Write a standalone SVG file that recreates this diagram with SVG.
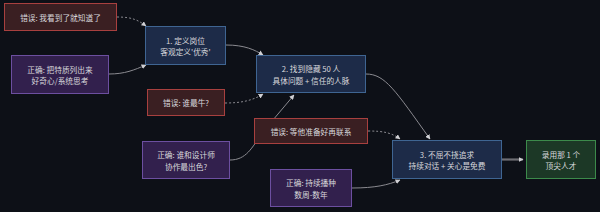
<svg xmlns="http://www.w3.org/2000/svg" width="600" height="212" viewBox="0 0 600 212">
<style>
text{font-family:"Noto Sans CJK SC","Liberation Sans",sans-serif;font-size:7.7px;fill:#d8d8dc;text-anchor:middle;dominant-baseline:central}
.step rect{fill:#1d2b48;stroke:#3f6592;stroke-width:1}
.err rect{fill:#3a1f22;stroke:#a8403f;stroke-width:1}
.ok rect{fill:#32204d;stroke:#6c4fa0;stroke-width:1}
.fin rect{fill:#1c3826;stroke:#3c8a4b;stroke-width:1}
.c path{fill:none;stroke:#8a8a90;stroke-width:1}
.c .d{stroke-dasharray:2 2}
.c .t{stroke-width:2.2;stroke:#6e6e74}
</style>
<defs>
<marker id="a" viewBox="0 0 10 10" refX="9" refY="5" markerWidth="5" markerHeight="5" orient="auto" markerUnits="userSpaceOnUse">
<path d="M0,0L10,5L0,10z" fill="#d0d0d4"/>
</marker>
</defs>
<rect width="600" height="212" fill="#0d1017"/>
<g id="connectors" class="c">
<path class="d" d="M117,17 C132,17 138,20 146,26" marker-end="url(#a)"/>
<path d="M109,74 C125,74 134,70 146,65" marker-end="url(#a)"/>
<path d="M226,45 C245,45 255,50 263,55" marker-end="url(#a)"/>
<path class="d" d="M225,103 C240,103 252,101 263,94" marker-end="url(#a)"/>
<path d="M230,160 C246,160 252,148 262,133 L294,95" marker-end="url(#a)"/>
<path d="M366,74 C385,74 395,90 430,139" marker-end="url(#a)"/>
<path class="d" d="M368,131 C384,131 392,133 400,139" marker-end="url(#a)"/>
<path d="M352,188 C375,188 388,185 400,180" marker-end="url(#a)"/>
<path class="t" d="M502,159.5 L523,159.5" marker-end="url(#a)"/>
</g>
<g id="err1" class="err"><rect x="4.5" y="3.5" width="112" height="27"/><text x="60.5" y="17">错误: 我看到了就知道了</text></g>
<g id="ok1" class="ok"><rect x="11.5" y="55.5" width="97" height="38"/><text x="60" y="69">正确: 把特质列出来</text><text x="60" y="80">好奇心/系统思考</text></g>
<g id="step1" class="step"><rect x="145.5" y="26.5" width="80" height="38"/><text x="185.5" y="40">1. 定义岗位</text><text x="185.5" y="51">客观定义'优秀'</text></g>
<g id="err2" class="err"><rect x="147.5" y="89.5" width="77" height="26"/><text x="186" y="102.5">错误: 谁最牛?</text></g>
<g id="step2" class="step"><rect x="256.5" y="55.5" width="109" height="37"/><text x="311" y="68">2. 找到隐藏 50 人</text><text x="311" y="80">具体问题 + 信任的人脉</text></g>
<g id="err3" class="err"><rect x="254.5" y="118.5" width="113" height="25"/><text x="311" y="131">错误: 等他准备好再联系</text></g>
<g id="ok2" class="ok"><rect x="142.5" y="141.5" width="87" height="37"/><text x="186" y="154.5">正确: 谁和设计师</text><text x="186" y="166">协作最出色?</text></g>
<g id="ok3" class="ok"><rect x="270.5" y="169.5" width="81" height="37"/><text x="311" y="182.5">正确: 持续播种</text><text x="311" y="194">数周-数年</text></g>
<g id="step3" class="step"><rect x="392.5" y="140.5" width="109" height="38"/><text x="447" y="154">3. 不屈不挠追求</text><text x="447" y="165">持续对话 + 关心是免费</text></g>
<g id="final" class="fin"><rect x="526.5" y="140.5" width="69" height="38"/><text x="561" y="154">录用那 1 个</text><text x="561" y="165">顶尖人才</text></g>
</svg>
